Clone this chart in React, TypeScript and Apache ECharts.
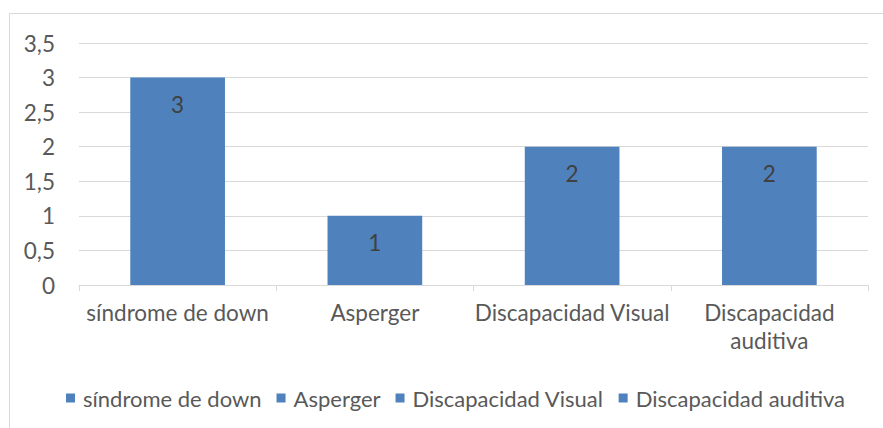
import React, { useEffect, useRef } from "react";
import * as echarts from "echarts";

const categories = ["síndrome de down", "Asperger", "Discapacidad Visual", "Discapacidad auditiva"];
const values = [3, 1, 2, 2];
const yTicks = [0, 0.5, 1, 1.5, 2, 2.5, 3, 3.5];
const axisLabelLines: Record<string, string> = {
  "Discapacidad auditiva": "Discapacidad\nauditiva",
};

const BAR = "#4F81BD";
const FONT = "Lato, 'Open Sans', sans-serif";
const FS = 22.5;

export default function App() {
  const ref = useRef<HTMLDivElement>(null);
  useEffect(() => {
    document.body.style.margin = "0";
    const chart = echarts.init(ref.current!, undefined, { renderer: "svg" });
    const series = categories.map((name, i) => ({
      name,
      type: "bar",
      stack: "total",
      barWidth: "48%",
      itemStyle: { color: BAR },
      data: categories.map((_, j) => (j === i ? values[i] : "-")),
      label: {
        show: true,
        position: "insideTop",
        distance: 15,
        color: "#404040",
        fontSize: FS,
        fontFamily: FONT,
        formatter: (p: any) => String(p.value).replace(".", ","),
      },
    }));
    chart.setOption({
      animation: false,
      textStyle: { fontFamily: FONT },
      graphic: [
        {
          type: "rect",
          shape: { x: 9.5, y: 13.5, width: 880, height: 430 },
          style: { fill: "none", stroke: "#D9D9D9", lineWidth: 1 },
          silent: true,
          z: -1,
        },
      ],
      grid: { left: 79, right: 15, top: 43, bottom: 143 },
      xAxis: {
        type: "category",
        data: categories,
        axisLine: { lineStyle: { color: "#D9D9D9", width: 1 } },
        axisTick: { show: true, length: 6, lineStyle: { color: "#D9D9D9" } },
        axisLabel: {
          color: "#595959",
          fontSize: FS,
          fontFamily: FONT,
          margin: 13,
          interval: 0,
          lineHeight: 28,
          formatter: (v: string) => axisLabelLines[v] ?? v,
        },
      },
      yAxis: {
        type: "value",
        min: yTicks[0],
        max: yTicks[yTicks.length - 1],
        interval: 0.5,
        axisLine: { show: false },
        axisTick: { show: false },
        splitLine: { lineStyle: { color: "#D9D9D9", width: 1 } },
        axisLabel: {
          color: "#595959",
          fontSize: FS,
          fontFamily: FONT,
          margin: 24,
          formatter: (v: number) => String(v).replace(".", ","),
        },
      },
      legend: {
        data: categories,
        left: 61,
        top: 382,
        itemWidth: 9,
        itemHeight: 9,
        itemGap: 15,
        icon: "rect",
        textStyle: { color: "#595959", fontSize: 22, fontFamily: FONT, padding: [0, 0, 0, 3] },
      },
      series,
    });
    return () => chart.dispose();
  }, []);
  return <div ref={ref} style={{ width: 883, height: 428 }} />;
}
